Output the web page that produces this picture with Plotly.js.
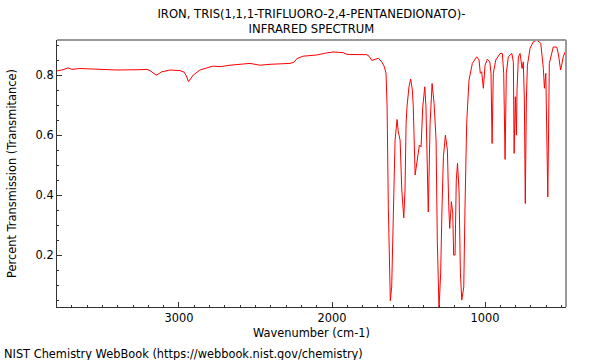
<!DOCTYPE html>
<html>
<head>
<meta charset="utf-8">
<script src="https://cdn.plot.ly/plotly-3.0.1.min.js"></script>
<style>html,body{margin:0;padding:0;background:#fff;}#chart{width:600px;height:360px;}</style>
</head>
<body>
<div id="chart"></div>
<script>
const wavenumber = [3797,3765,3725,3701,3647,3516,3407,3255,3209,3183,3163,3150,3137,3113,3059,2993,2967,2951,2938,2925,2907,2863,2778,2732,2667,2536,2471,2405,2274,2248,2229,2190,2100,2035,1993,1928,1902,1773,1758,1740,1723,1697,1675,1658,1647,1640,1632,1625,1619,1610,1599,1588,1575,1567,1555,1544,1531,1523,1516,1510,1497,1486,1475,1469,1457,1442,1429,1418,1407,1394,1386,1371,1359,1346,1333,1320,1312,1301,1290,1281,1272,1259,1246,1237,1231,1220,1211,1205,1196,1188,1180,1170,1161,1152,1139,1131,1120,1105,1083,1054,1039,1031,1022,1011,1000,985,969,961,954,946,930,902,887,878,869,861,848,825,815,810,802,795,791,782,771,758,750,743,737,730,723,706,686,662,636,619,612,603,597,590,584,580,554,531,520,506,488,471];
const transmittance = [0.814,0.817,0.824,0.819,0.822,0.820,0.817,0.818,0.819,0.813,0.803,0.800,0.803,0.811,0.817,0.815,0.810,0.797,0.778,0.787,0.800,0.817,0.830,0.828,0.833,0.839,0.833,0.836,0.839,0.843,0.855,0.863,0.867,0.874,0.877,0.875,0.869,0.868,0.863,0.849,0.852,0.856,0.844,0.828,0.806,0.694,0.361,0.140,0.048,0.094,0.361,0.583,0.652,0.611,0.583,0.417,0.324,0.417,0.639,0.694,0.761,0.787,0.750,0.694,0.467,0.528,0.567,0.561,0.694,0.761,0.694,0.344,0.639,0.772,0.706,0.583,0.250,0.020,0.140,0.361,0.528,0.600,0.550,0.361,0.289,0.378,0.340,0.200,0.200,0.450,0.506,0.417,0.140,0.050,0.094,0.361,0.639,0.783,0.839,0.861,0.850,0.806,0.811,0.756,0.833,0.853,0.844,0.806,0.572,0.806,0.850,0.872,0.872,0.806,0.519,0.806,0.861,0.872,0.843,0.539,0.728,0.600,0.750,0.861,0.872,0.822,0.844,0.717,0.372,0.717,0.833,0.889,0.910,0.917,0.906,0.822,0.756,0.806,0.650,0.394,0.650,0.839,0.894,0.893,0.867,0.817,0.863,0.883];

const titleText = "IRON, TRIS(1,1,1-TRIFLUORO-2,4-PENTANEDIONATO)-<br>INFRARED SPECTRUM";
const xTitle = "Wavenumber (cm-1)";
const yTitle = "Percent Transmission (Transmitance)";
const credit = "NIST Chemistry WebBook (https://webbook.nist.gov/chemistry)";

const font = {family: "DejaVu Sans, sans-serif", size: 11.4, color: "#000"};

const data = [{
  x: wavenumber, y: transmittance, type: "scatter", mode: "lines",
  line: {color: "#ff0000", width: 1}, hoverinfo: "skip"
}];

const layout = {
  width: 600, height: 360,
  margin: {l: 57, r: 34, t: 40, b: 53},
  paper_bgcolor: "#fff", plot_bgcolor: "#fff",
  font: font,
  showlegend: false,
  title: {text: titleText, font: {family: font.family, size: 11.6, color: "#000"}, x: 0.519, xanchor: "center", y: 0.95, yanchor: "top"},
  xaxis: {
    range: [3797, 471], autorange: false,
    tick0: 0, dtick: 1000, ticks: "inside", ticklen: 5, tickcolor: "#333",
    minor: {dtick: 100, ticks: "inside", ticklen: 2, tickcolor: "#333"},
    showgrid: false, zeroline: false,
    showline: true, linecolor: "#333", linewidth: 1,
    title: {text: xTitle, font: font, standoff: 5},
    tickfont: font
  },
  yaxis: {
    range: [0.027, 0.917], autorange: false,
    tick0: 0, dtick: 0.2, ticks: "inside", ticklen: 5, tickcolor: "#333",
    minor: {dtick: 0.05, ticks: "inside", ticklen: 2, tickcolor: "#333"},
    showgrid: false, zeroline: false,
    showline: true, linecolor: "#333", linewidth: 1,
    title: {text: yTitle, font: font, standoff: 16},
    tickfont: font
  },
  shapes: [
    {type: "line", xref: "paper", yref: "paper", x0: 0, x1: 1, y0: 1, y1: 1, line: {color: "#999", width: 2}},
    {type: "line", xref: "paper", yref: "paper", x0: 1, x1: 1, y0: 0, y1: 1, line: {color: "#999", width: 2}}
  ],
  annotations: [{
    text: credit, xref: "paper", yref: "paper", x: -0.108, y: -0.142,
    xanchor: "left", yanchor: "top", showarrow: false, font: font
  }]
};

Plotly.newPlot("chart", data, layout, {displayModeBar: false, staticPlot: true});
</script>
</body>
</html>
